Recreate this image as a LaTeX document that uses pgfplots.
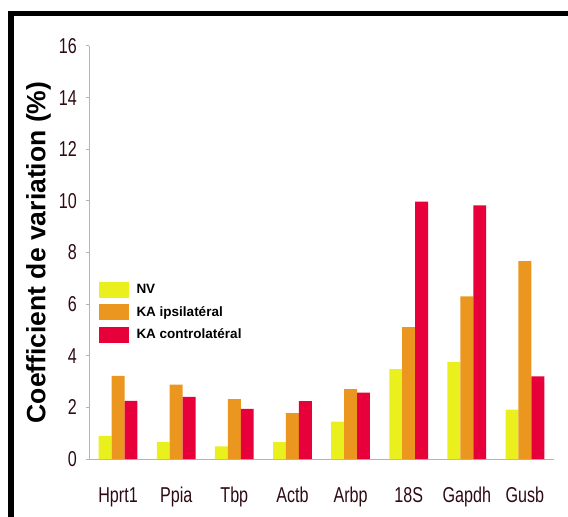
\documentclass[border=0pt]{standalone}
\usepackage{fontspec}
\setmainfont{Liberation Sans}
\newfontfamily\narrowfont[FakeStretch=0.75]{Liberation Sans}
\usepackage{pgfplots}
\pgfplotsset{compat=1.18}
\definecolor{cNV}{HTML}{EAF01E}
\definecolor{cIpsi}{HTML}{EB961E}
\definecolor{cContra}{HTML}{E8003A}
\definecolor{tickcol}{HTML}{2E0A12}
\definecolor{axcol}{HTML}{B4B4B4}
\begin{document}
\begin{tikzpicture}
\path[use as bounding box] (0,0) rectangle (568pt,517pt);
\fill[black] (8pt,0pt) rectangle (14pt,506pt);
\fill[black] (8pt,500.5pt) rectangle (568pt,506pt);
\begin{axis}[
  at={(89pt,58pt)}, anchor=south west,
  scale only axis, width=465pt, height=413pt,
  xmin=-0.5, xmax=7.5, ymin=0, ymax=16,
  axis lines=left,
  axis line style={draw=axcol, line width=1pt, -},
  ybar=0pt, bar width=12.9pt,
  xtick={0,...,7},
  xticklabels={Hprt1,Ppia,Tbp,Actb,Arbp,18S,Gapdh,Gusb},
  minor xtick={-0.5,0.5,...,7.5},
  ytick={0,2,...,16},
  tick align=outside,
  major tick length=3pt, minor tick length=6pt,
  xtick style={draw=none},
  minor tick style={draw=axcol, line width=1pt},
  ytick style={draw=axcol, line width=1pt},
  /pgf/number format/assume math mode=true,
  tick label style={font=\narrowfont\fontsize{21.5}{21.5}\selectfont, text=tickcol},
  xticklabel style={anchor=base, inner sep=0pt, yshift=-40pt},
  yticklabel style={anchor=east, inner sep=0pt, xshift=-9pt},
  ylabel={Coefficient de variation (\%)},
  ylabel style={font=\bfseries\fontsize{26.5}{26.5}\selectfont, anchor=base, at={(axis description cs:-0.094,0.5)}, rotate=0},
  legend style={draw=none, fill=none, at={(0.02,0.43)}, anchor=north west, font=\bfseries\fontsize{13.5}{13.5}\selectfont, row sep=6.5pt, inner sep=0pt, column sep=6pt},
  legend cell align=left,
  legend image code/.code={\fill[#1] (0pt,-8pt) rectangle (30pt,8pt);},
  clip=false,
]
\addplot[fill=cNV, draw=none] coordinates {(0,0.90) (1,0.65) (2,0.49) (3,0.65) (4,1.45) (5,3.48) (6,3.75) (7,1.91)};
\addplot[fill=cIpsi, draw=none] coordinates {(0,3.22) (1,2.88) (2,2.32) (3,1.78) (4,2.71) (5,5.11) (6,6.30) (7,7.67)};
\addplot[fill=cContra, draw=none] coordinates {(0,2.25) (1,2.41) (2,1.94) (3,2.24) (4,2.57) (5,9.97) (6,9.83) (7,3.20)};
\legend{NV,KA ipsilatéral,KA controlatéral}
\end{axis}
\end{tikzpicture}
\end{document}
